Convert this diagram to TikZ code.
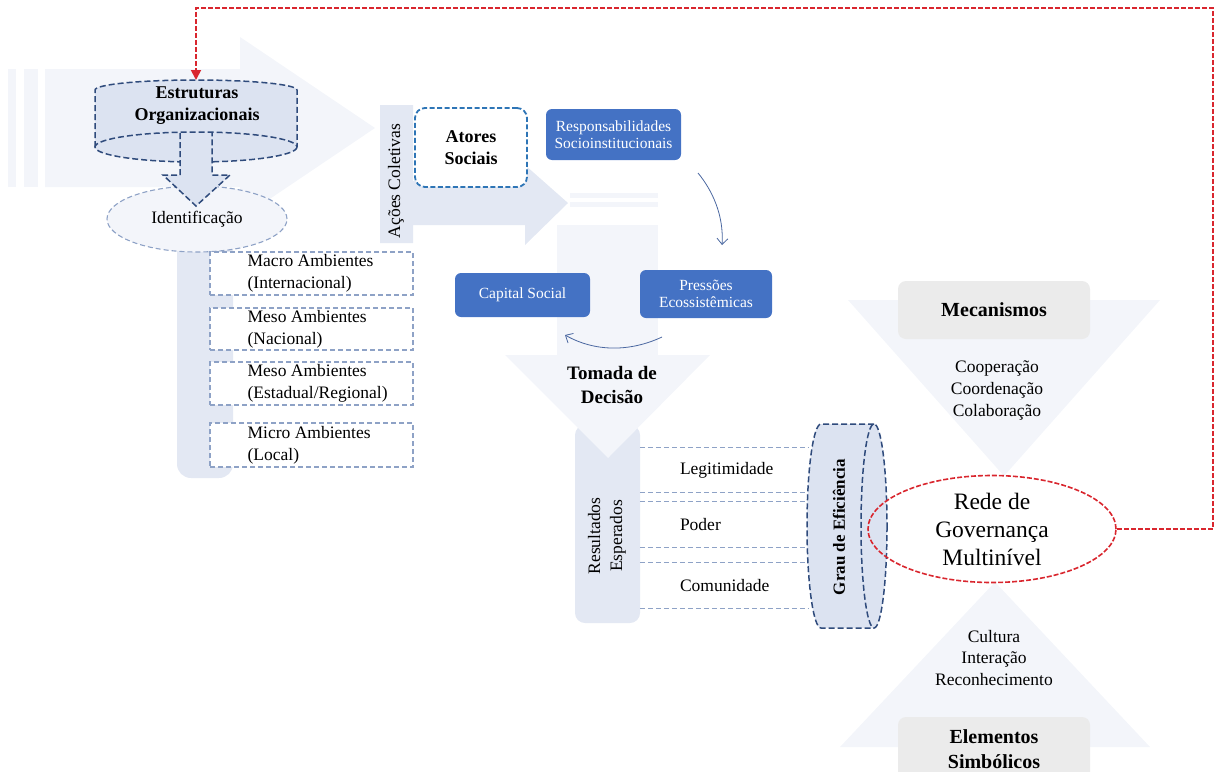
\documentclass[tikz,border=0pt]{standalone}
\usepackage{fontspec}
\setmainfont{Liberation Serif}
\usetikzlibrary{shapes.geometric, arrows.meta}

\definecolor{palebg}{HTML}{F3F5FA}
\definecolor{barbg}{HTML}{E3E8F3}
\definecolor{cylblue}{HTML}{DCE3F1}
\definecolor{darkdash}{HTML}{2F4B7C}
\definecolor{lightdash}{HTML}{8EA2C6}
\definecolor{boxblue}{HTML}{4472C4}
\definecolor{tealdash}{HTML}{2E75B6}
\definecolor{curvecol}{HTML}{4A67A0}
\definecolor{loopred}{HTML}{D9262E}
\definecolor{mecgray}{HTML}{EBEBEB}

\begin{document}
\begin{tikzpicture}[x=1pt, y=-1pt,
	txt/.style={inner sep=0, align=center, font=\fontsize{17.5}{22}\selectfont},
	boldtxt/.style={inner sep=0, align=center, font=\fontsize{18}{22}\selectfont\bfseries},
	bluebox/.style={rectangle, rounded corners=6, fill=boxblue, text=white, inner sep=0, align=center, font=\fontsize{15.5}{17}\selectfont},
	envbox/.style={rectangle, draw=lightdash, line width=1.1pt, dash pattern=on 5pt off 3pt, fill=white, minimum width=203, inner sep=0},
	envtxt/.style={anchor=west, inner sep=0, align=left, font=\fontsize{17.5}{22}\selectfont},
	rowbox/.style={rectangle, minimum width=168, text width=88, align=left, inner sep=0, font=\fontsize{17.5}{22}\selectfont},
	rowline/.style={draw=lightdash, line width=1.1pt, dash pattern=on 5pt off 3pt},
	cylline/.style={draw=darkdash, line width=1.5pt, dash pattern=on 6pt off 3pt},
	grbox/.style={rectangle, rounded corners=8, fill=mecgray, minimum width=192, inner sep=0, align=center, font=\fontsize{20}{25}\selectfont\bfseries},
	curvearrow/.style={draw=curvecol, line width=0.8pt, -{Straight Barb[length=6pt, width=11pt]}},
	loopline/.style={draw=loopred, line width=1.8pt, dash pattern=on 5pt off 2pt, -{Triangle[length=10pt, width=10pt]}}
]
\useasboundingbox (0,0) rectangle (1214,771);
\clip (0,0) rectangle (1214,771);

	\fill[palebg] (8,69) rectangle (16,187);
	\fill[palebg] (24,69) rectangle (38,187);
	\fill[palebg] (45,69) -- (240,69) -- (240,37) -- (375,128) -- (240,219) -- (240,187) -- (45,187) -- cycle;
	\fill[barbg] (177,230) [rounded corners=14] -- (177,478) -- (233,478) [sharp corners] -- (233,230) -- cycle;

	\fill[palebg] (570,193) rectangle (658,198);
	\fill[palebg] (570,202) rectangle (658,207);
	\fill[palebg] (557,225) rectangle (658,356);
	\fill[barbg] (380,105) -- (413,105) -- (413,181) -- (525,181) -- (525,165) -- (568,203) -- (525,245) -- (525,225) -- (413,225) -- (413,243) -- (380,243) -- cycle;
	\fill[barbg, rounded corners=10] (575,425) rectangle (640,623);
	\fill[palebg] (505,355) -- (710,355) -- (608,458) -- cycle;

	\fill[palebg] (848,300) -- (1160,300) -- (1004,476) -- cycle;
	\fill[palebg] (995,582) -- (1150,747) -- (840,747) -- cycle;

	\node (ident) [ellipse, draw=lightdash, fill=palebg, line width=1.1pt, dash pattern=on 5pt off 3pt, minimum width=180, minimum height=66, inner sep=0, font=\fontsize{17.5}{22}\selectfont] at (197,219) {\raisebox{-5pt}{Identificação}};

	\path[fill=cylblue] (95,147) -- (95,90) arc[start angle=180, end angle=360, x radius=101, y radius=10] -- (297,147) arc[start angle=0, end angle=180, x radius=101, y radius=15] -- cycle;
	\draw[cylline] (95,147) -- (95,90) arc[start angle=180, end angle=360, x radius=101, y radius=10] -- (297,147);
	\draw[cylline] (196,147) ellipse [x radius=101, y radius=15];
	\fill[cylblue] (180,133) -- (212,133) -- (212,175) -- (230,175) -- (196,206) -- (163,175) -- (180,175) -- cycle;
	\draw[cylline] (180,133) -- (180,175) -- (163,175) -- (196,206) -- (230,175) -- (212,175) -- (212,133);
	\node (estr) [boldtxt] at (197,106) {Estruturas\\Organizacionais};
	\coordinate (estrtop) at (196,80);

	\node (acoes) [txt, rotate=90] at (396,181) {Ações Coletivas};
	\node (atores) [rectangle, rounded corners=10, draw=tealdash, line width=1.8pt, dash pattern=on 5pt off 2.5pt, fill=white, minimum width=112, minimum height=79, boldtxt] at (471,147.5) {Atores\\Sociais};

	\node (resp) [bluebox, minimum width=135, minimum height=51] at (613.5,134.5) {Responsabilidades\\Socioinstitucionais};
	\node (pres) [bluebox, minimum width=132, minimum height=48] at (706,294) {Pressões\\Ecossistêmicas};
	\node (capital) [bluebox, minimum width=135, minimum height=44] at (522.5,295) {Capital Social};

	\coordinate (respout) at (698,173);
	\coordinate (presin) at (722,245);
	\coordinate (presout) at (662,337);
	\coordinate (capin) at (565,335);
	\draw[curvearrow] (respout) .. controls (712,190) and (724,215) .. (presin);
	\draw[curvearrow] (presout) .. controls (630,352) and (595,352) .. (capin);

	\node (tomada) [inner sep=0, align=center, font=\fontsize{19}{24}\selectfont\bfseries] at (612,385) {Tomada de\\Decisão};

	\node (macro) [envbox, minimum height=43] at (311.5,273.5) {};
	\node (mesonac) [envbox, minimum height=42] at (311.5,329) {};
	\node (mesoest) [envbox, minimum height=43] at (311.5,383.5) {};
	\node (micro) [envbox, minimum height=44] at (311.5,445) {};
	\node (macrotxt) [envtxt] at ([xshift=38pt]macro.west) {Macro Ambientes\\(Internacional)};
	\node (mesonactxt) [envtxt] at ([xshift=38pt]mesonac.west) {Meso Ambientes\\(Nacional)};
	\node (mesoesttxt) [envtxt] at ([xshift=38pt]mesoest.west) {Meso Ambientes\\(Estadual/Regional)};
	\node (microtxt) [envtxt] at ([xshift=38pt]micro.west) {Micro Ambientes\\(Local)};

	\node (result) [txt, rotate=90] at (607,536) {Resultados\\Esperados};

	\node (legit) [rowbox, minimum height=44] at (724,470) {Legitimidade};
	\node (poder) [rowbox, minimum height=45] at (724,524.5) {Poder};
	\node (comun) [rowbox, minimum height=45] at (724,585.5) {Comunidade};
	\foreach \r in {legit, poder, comun} {
		\draw[rowline] (\r.north west) -- (\r.north east);
		\draw[rowline] (\r.south west) -- (\r.south east);
	}

	\path[fill=cylblue] (821,424) -- (874,424) arc[start angle=270, end angle=450, x radius=13, y radius=102] -- (821,628) arc[start angle=90, end angle=270, x radius=14, y radius=102] -- cycle;
	\draw[cylline] (874,424) -- (821,424) arc[start angle=270, end angle=90, x radius=14, y radius=102] -- (874,628);
	\draw[cylline] (874,526) ellipse [x radius=13, y radius=102];
	\node (grau) [boldtxt, font=\fontsize{17}{22}\selectfont\bfseries, rotate=90] at (839,527) {Grau de Eficiência};

	\node (mec) [grbox, minimum height=58] at (994,310) {Mecanismos};
	\node (coop) [txt] at (997,390) {Cooperação\\Coordenação\\Colaboração};
	\node (rede) [ellipse, draw=loopred, line width=1.6pt, dash pattern=on 5pt off 2pt, minimum width=248, minimum height=107, inner sep=0, align=center, font=\fontsize{23.5}{28}\selectfont] at (992,529) {Rede de\\Governança\\Multinível};
	\node (cult) [txt, font=\fontsize{17.5}{21.5}\selectfont] at (994,658) {Cultura\\Interação\\Reconhecimento};
	\node (elem) [grbox, minimum height=64] at (994,749) {Elementos\\Simbólicos};

	\draw[loopline] (rede.east) -| (1213,8) -| (estrtop);

\end{tikzpicture}
\end{document}
